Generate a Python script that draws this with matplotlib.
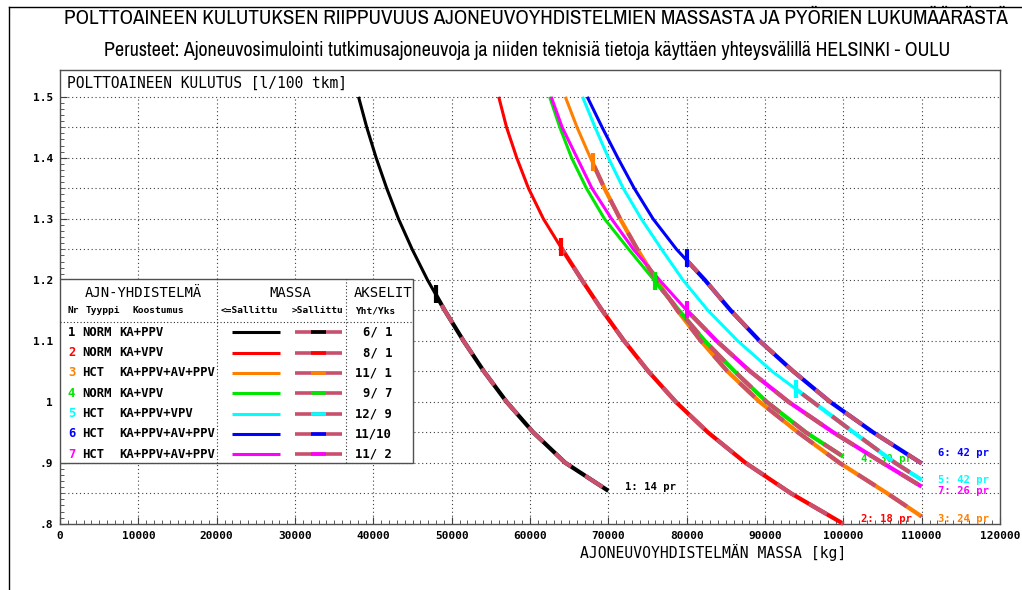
import matplotlib
matplotlib.use("Agg")
import matplotlib.pyplot as plt
from matplotlib import font_manager
from matplotlib.patches import Rectangle
from matplotlib.lines import Line2D

# massa [kg] ja kulutus [l/100 tkm], luettu kuvasta
mass_1 = [38100, 39150, 40350, 41700, 43200, 44950, 46900, 49100, 51500, 54100, 57000, 60400, 64500, 70000]
fuel_1 = [1.50, 1.45, 1.40, 1.35, 1.30, 1.25, 1.20, 1.15, 1.10, 1.05, 1.00, 0.95, 0.90, 0.854]
mass_2 = [56000, 57000, 58300, 59800, 61700, 64100, 66600, 69200, 72000, 75100, 78600, 82700, 87500, 93300, 100000]
fuel_2 = [1.50, 1.45, 1.40, 1.35, 1.30, 1.25, 1.20, 1.15, 1.10, 1.05, 1.00, 0.95, 0.90, 0.85, 0.80]
mass_3 = [64500, 66000, 67700, 69500, 71500, 73700, 76100, 78800, 81800, 85200, 89300, 94200, 99500, 105600, 110000]
fuel_3 = [1.50, 1.45, 1.40, 1.35, 1.30, 1.25, 1.20, 1.15, 1.10, 1.05, 1.00, 0.95, 0.90, 0.85, 0.812]
mass_4 = [62500, 63800, 65300, 67200, 69500, 72600, 75800, 79000, 82300, 86100, 90200, 95200, 100000]
fuel_4 = [1.50, 1.45, 1.40, 1.35, 1.30, 1.25, 1.20, 1.15, 1.10, 1.05, 1.00, 0.95, 0.91]
mass_5 = [66700, 68300, 70000, 71900, 74200, 76800, 79500, 82700, 86500, 90900, 96100, 101300, 106600, 110000]
fuel_5 = [1.50, 1.45, 1.40, 1.35, 1.30, 1.25, 1.20, 1.15, 1.10, 1.05, 1.00, 0.95, 0.90, 0.872]
mass_6 = [67300, 69200, 71200, 73300, 75700, 78700, 82300, 85600, 89300, 93600, 98300, 103800, 110000]
fuel_6 = [1.50, 1.45, 1.40, 1.35, 1.30, 1.25, 1.20, 1.15, 1.10, 1.05, 1.00, 0.95, 0.899]
mass_7 = [62700, 64100, 66000, 67900, 70400, 73200, 76500, 80000, 83800, 88100, 93000, 98700, 105000, 110000]
fuel_7 = [1.50, 1.45, 1.40, 1.35, 1.30, 1.25, 1.20, 1.15, 1.10, 1.05, 1.00, 0.95, 0.90, 0.861]

# sallittu massa ja kulutus sen kohdalla
permitted_mass = [48000, 64000, 68000, 76000, 94000, 80000, 80000]
permitted_fuel = [1.175, 1.252, 1.392, 1.197, 1.020, 1.234, 1.150]

numbers = ["1", "2", "3", "4", "5", "6", "7"]
types = ["NORM", "NORM", "HCT", "NORM", "HCT", "HCT", "HCT"]
compositions = ["KA+PPV", "KA+VPV", "KA+PPV+AV+PPV", "KA+VPV", "KA+PPV+VPV", "KA+PPV+AV+PPV", "KA+PPV+AV+PPV"]
axles = ["6/ 1", "8/ 1", "11/ 1", "9/ 7", "12/ 9", "11/10", "11/ 2"]
end_labels = ["1: 14 pr", "2: 18 pr", "3: 24 pr", "4: 30 pr", "5: 42 pr", "6: 42 pr", "7: 26 pr"]
colors = ["#000000", "#ff0000", "#ff8000", "#00e600", "#00ffff", "#0000ff", "#ff00ff"]
ROSE = "#c8506c"

x_ticks = [0, 10000, 20000, 30000, 40000, 50000, 60000, 70000, 80000, 90000, 100000, 110000, 120000]
x_labels = ["0", "10000", "20000", "30000", "40000", "50000", "60000", "70000", "80000",
			"90000", "100000", "110000", "120000"]
y_ticks = [0.8, 0.9, 1.0, 1.1, 1.2, 1.3, 1.4, 1.5]
y_labels = [".8", ".9", "1", "1.1", "1.2", "1.3", "1.4", "1.5"]

MONO = "DejaVu Sans Mono"


def narrow_font():
	"""Pick a narrow/condensed sans font if one is installed"""
	found = []
	for f in font_manager.fontManager.ttflist:
		if f.style != "normal" or f.weight not in (400, "normal", "regular", "book"):
			continue
		if "Narrow" in f.name:
			found.append((0, f.fname))
		elif "Condensed" in f.name or "Condensed" in f.fname:
			found.append((1, f.fname))
		elif str(f.stretch) in ("condensed", "semi-condensed", "extra-condensed"):
			found.append((2, f.fname))
	if found:
		found.sort()
		return font_manager.FontProperties(fname=found[0][1])
	return font_manager.FontProperties(family="DejaVu Sans")


def fit_width(fig, txt, width_px):
	"""Scale font so that text is width_px wide"""
	r = fig.canvas.get_renderer()
	w = txt.get_window_extent(r).width
	txt.set_fontsize(txt.get_fontsize() * width_px / w)


def draw_curve(ax, mass, fuel, color, perm, perm_fuel):
	lw = 3.0
	solid = ax.plot(mass, fuel, color=color, lw=2.2, solid_capstyle="butt", zorder=4)[0]
	solid.set_clip_path(Rectangle((0, 0), perm, 5, transform=ax.transData))
	under = ax.plot(mass, fuel, color=color, lw=lw, solid_capstyle="butt", zorder=4)[0]
	under.set_clip_path(Rectangle((perm, 0), 200000, 5, transform=ax.transData))
	# dash lengths given in points, matplotlib scales them by linewidth
	over = ax.plot(mass, fuel, color=ROSE, lw=lw, linestyle=(0, (15 / lw, 12 / lw)),
				   dash_capstyle="butt", zorder=5)[0]
	over.set_clip_path(Rectangle((perm, 0), 200000, 5, transform=ax.transData))
	ax.plot([perm, perm], [perm_fuel - 0.013, perm_fuel + 0.016], color=color, lw=3.0,
			solid_capstyle="butt", zorder=6)


def draw_table(ax):
	x0, x1, y0, y1 = 0, 45070, 0.8997, 1.2013
	ax.add_patch(Rectangle((x0, y0), x1 - x0, y1 - y0, facecolor="white",
						   edgecolor="#505050", lw=1.0, zorder=8))
	dot = dict(color="#303030", lw=0.8, linestyle=(0, (1, 2)), zorder=9)
	ax.plot([20000, 20000], [y0, y1], **dot)
	ax.plot([36500, 36500], [y0, y1], **dot)
	ax.plot([x0, x1], [1.131, 1.131], **dot)

	head = dict(fontfamily=MONO, fontsize=10, va="center", zorder=10)
	ax.text(10600, 1.178, "AJN-YHDISTELMÄ", ha="center", **head)
	ax.text(29400, 1.178, "MASSA", ha="center", **head)
	ax.text(41200, 1.178, "AKSELIT", ha="center", **head)
	sub = dict(fontfamily=MONO, fontsize=6.8, fontweight="bold", va="center", zorder=10)
	ax.text(1000, 1.149, "Nr", ha="left", **sub)
	ax.text(3300, 1.149, "Tyyppi", ha="left", **sub)
	ax.text(9300, 1.149, "Koostumus", ha="left", **sub)
	ax.text(24200, 1.149, "<=Sallittu", ha="center", **sub)
	ax.text(32900, 1.149, ">Sallittu", ha="center", **sub)
	ax.text(37600, 1.149, "Yht/Yks", ha="left", **sub)

	row = dict(fontfamily=MONO, fontsize=8.8, fontweight="bold", va="center", zorder=10)
	for i in range(len(numbers)):
		y = 1.114 - i * 0.0333
		ax.text(1000, y, numbers[i], ha="left", color=colors[i], **row)
		ax.text(2800, y, types[i], ha="left", **row)
		ax.text(7500, y, compositions[i], ha="left", **row)
		ax.text(42400, y, axles[i], ha="right", **row)
		ax.plot([22000, 28100], [y, y], color=colors[i], lw=2.2, solid_capstyle="butt", zorder=10)
		ax.plot([30000, 36000], [y, y], color=ROSE, lw=2.6, solid_capstyle="butt", zorder=10)
		ax.plot([32000, 34000], [y, y], color=colors[i], lw=2.6, solid_capstyle="butt", zorder=11)


def main():
	fig = plt.figure(figsize=(10.22, 5.90), dpi=100)
	ax = fig.add_axes([60.1 / 1022, 1 - 523.8 / 590, 939.9 / 1022, 453.8 / 590])
	ax.set_xlim(0, 120000)
	ax.set_ylim(0.8, 1.5 + 26.8 / 610)

	# ruudukko
	grid = dict(color="#404040", lw=0.8, linestyle=(0, (1, 2.5)), zorder=1)
	for x in range(10000, 120000, 10000):
		ax.plot([x, x], [0.8, 1.5], **grid)
	for k in range(1, 15):
		y = 0.8 + k * 0.05
		ax.plot([0, 120000], [y, y], **grid)

	masses = [mass_1, mass_2, mass_3, mass_4, mass_5, mass_6, mass_7]
	fuels = [fuel_1, fuel_2, fuel_3, fuel_4, fuel_5, fuel_6, fuel_7]
	for i in range(len(masses)):
		draw_curve(ax, masses[i], fuels[i], colors[i], permitted_mass[i], permitted_fuel[i])

	# käyrien loppuun tekstit
	label_pos = [(72100, 0.860), (102200, 0.808), (112100, 0.808), (102200, 0.906),
				 (112100, 0.872), (112100, 0.916), (112100, 0.854)]
	for i in range(len(end_labels)):
		ax.text(label_pos[i][0], label_pos[i][1], end_labels[i], color=colors[i],
				fontfamily=MONO, fontsize=7.6, fontweight="bold", va="center", ha="left",
				zorder=3)

	draw_table(ax)

	ax.set_xticks(x_ticks)
	ax.set_xticklabels(x_labels, fontfamily=MONO, fontsize=8, fontweight="bold")
	ax.set_xticks(range(0, 120001, 1000), minor=True)
	ax.set_yticks(y_ticks)
	ax.set_yticklabels(y_labels, fontfamily=MONO, fontsize=8, fontweight="bold")
	ax.set_yticks([0.8 + k * 0.01 for k in range(71)], minor=True)
	ax.tick_params(which="both", direction="in", color="#404040", pad=5)
	ax.tick_params(which="major", length=5, width=0.8)
	ax.tick_params(which="minor", length=3, width=0.6)
	for s in ax.spines.values():
		s.set_color("#505050")
		s.set_linewidth(1.0)

	ax.text(0.007, 1.5 + 13.5 / 610, "POLTTOAINEEN KULUTUS [l/100 tkm]", fontfamily=MONO,
			fontsize=10.5, va="center", ha="left", transform=ax.get_yaxis_transform())
	fig.text(713 / 1022, 1 - 552 / 590, "AJONEUVOYHDISTELMÄN MASSA [kg]", fontfamily=MONO,
			 fontsize=10.6, ha="center", va="center")

	fp = narrow_font()
	title = fig.text(536 / 1022, 1 - 18 / 590,
					 "POLTTOAINEEN KULUTUKSEN RIIPPUVUUS AJONEUVOYHDISTELMIEN MASSASTA JA PYÖRIEN LUKUMÄÄRÄSTÄ",
					 fontproperties=fp, fontsize=14, ha="center", va="center")
	subtitle = fig.text(527 / 1022, 1 - 50 / 590,
						"Perusteet: Ajoneuvosimulointi tutkimusajoneuvoja ja niiden teknisiä tietoja käyttäen yhteysvälillä HELSINKI - OULU",
						fontproperties=fp, fontsize=11, ha="center", va="center")
	fit_width(fig, title, 944)
	fit_width(fig, subtitle, 848)

	# kuvan reunaviivat
	fig.add_artist(Line2D([9 / 1022, 9 / 1022], [0, 1 - 7 / 590], color="black", lw=1.0))
	fig.add_artist(Line2D([9 / 1022, 1], [1 - 7 / 590, 1 - 7 / 590], color="black", lw=1.0))

	fig.savefig("out.png", dpi=100, facecolor="white")


if __name__ == "__main__":
	main()
